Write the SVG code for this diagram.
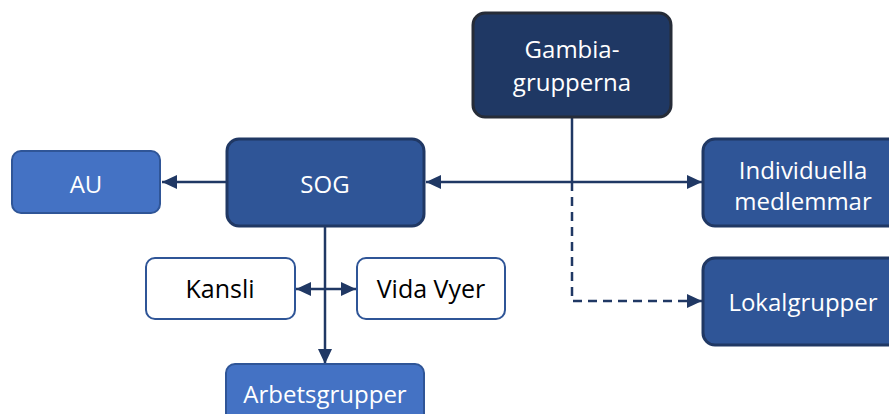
<svg xmlns="http://www.w3.org/2000/svg" width="889" height="414" viewBox="0 0 889 414">
<defs>
<marker id="arr" markerUnits="userSpaceOnUse" markerWidth="16" markerHeight="16" viewBox="0 0 16 16" refX="15" refY="8" orient="auto-start-reverse">
<path d="M0,1 L15,8 L0,15 Z" fill="#203864"/>
</marker>
</defs>
<style>
text{font-family:"Open Sans","Noto Sans",sans-serif;font-size:24px;text-anchor:middle}
.w{fill:#fff}
.k{fill:#000;font-size:25px}
.navy{fill:#1F3864;stroke:#262C38;stroke-width:3}
.mid{fill:#2F5597;stroke:#203864;stroke-width:3}
.light{fill:#4472C4;stroke:#2F5597;stroke-width:2}
.white{fill:#fff;stroke:#2F5597;stroke-width:2}
.c{fill:none;stroke:#203864;stroke-width:2.5}
</style>
<g id="connectors">
<line class="c" x1="227" y1="182" x2="162" y2="182" marker-end="url(#arr)"/>
<line class="c" x1="426" y1="182" x2="702" y2="182" marker-start="url(#arr)" marker-end="url(#arr)"/>
<line class="c" x1="572" y1="118" x2="572" y2="182"/>
<polyline class="c" points="572,182 572,301 702,301" stroke-dasharray="9,6" marker-end="url(#arr)"/>
<line class="c" x1="325" y1="226" x2="325" y2="364" marker-end="url(#arr)"/>
<line class="c" x1="296" y1="289" x2="356" y2="289" marker-start="url(#arr)" marker-end="url(#arr)"/>
</g>
<g id="gambia">
<rect class="navy" x="473" y="13" width="198" height="104" rx="12"/>
<text class="w" x="572" y="58">Gambia-</text>
<text class="w" x="572" y="91">grupperna</text>
</g>
<g id="sog">
<rect class="mid" x="227" y="139" width="197" height="87" rx="12"/>
<text class="w" x="325" y="193">SOG</text>
</g>
<g id="au">
<rect class="light" x="12" y="151" width="148" height="62" rx="9"/>
<text class="w" x="86" y="193">AU</text>
</g>
<g id="individuella">
<rect class="mid" x="703" y="139" width="200" height="87" rx="12"/>
<text class="w" x="803" y="179">Individuella</text>
<text class="w" x="803" y="210">medlemmar</text>
</g>
<g id="lokalgrupper">
<rect class="mid" x="703" y="258" width="200" height="87" rx="12"/>
<text class="w" x="803" y="311">Lokalgrupper</text>
</g>
<g id="kansli">
<rect class="white" x="146" y="258" width="149" height="61" rx="9"/>
<text class="k" x="220" y="298">Kansli</text>
</g>
<g id="vidavyer">
<rect class="white" x="357" y="258" width="148" height="61" rx="9"/>
<text class="k" x="431" y="298">Vida Vyer</text>
</g>
<g id="arbetsgrupper">
<rect class="light" x="226" y="364" width="198" height="60" rx="9"/>
<text class="w" x="325" y="403">Arbetsgrupper</text>
</g>
</svg>
